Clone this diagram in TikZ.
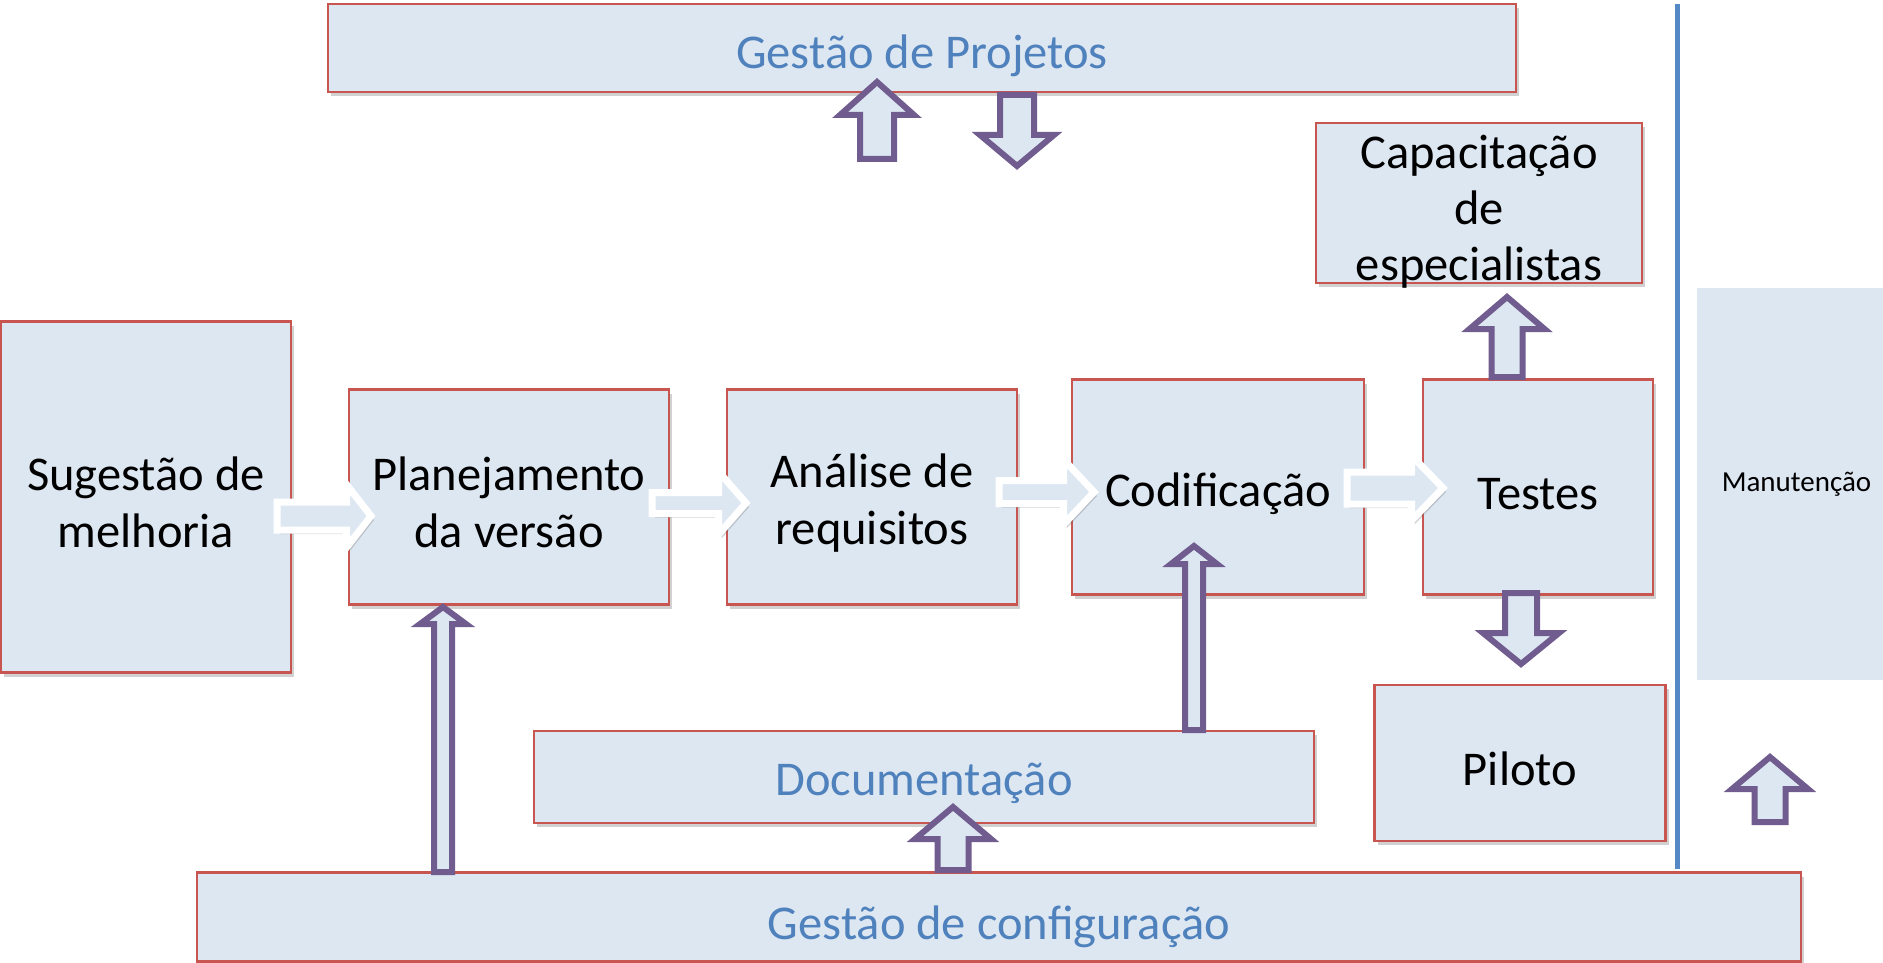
\documentclass[tikz,border=0pt]{standalone}
\usepackage{fontspec}
\setmainfont{Carlito}
\usetikzlibrary{shadows}
\definecolor{boxfill}{RGB}{221,231,242}
\definecolor{boxred}{RGB}{200,85,80}
\definecolor{arrpurple}{RGB}{112,92,142}
\definecolor{txtblue}{RGB}{79,129,189}
\definecolor{lineblue}{RGB}{84,137,198}
\tikzset{
  myshadow/.style={drop shadow={shadow xshift=3pt, shadow yshift=-4pt, opacity=0.3, fill=black!60}},
  box/.style={draw=boxred, fill=boxfill, line width=2.5pt, inner sep=0pt, outer sep=0pt, myshadow},
  lbl/.style={align=center, inner sep=0pt, font=\fontsize{48.5}{57}\selectfont},
  bluetxt/.style={text=txtblue},
  parrow/.style={draw=arrpurple, fill=boxfill, line width=6pt, miter limit=10},
  warrow/.style={draw=white, fill=boxfill, line width=7pt, miter limit=10, myshadow},
  manbox/.style={draw=white, fill=boxfill, line width=8pt, inner sep=0pt, outer sep=0pt,
    font=\fontsize{29}{35}\selectfont, myshadow},
  sepline/.style={draw=lineblue, line width=5pt},
}
% vertical block arrow: x, tip y, head base y, head half width, shaft half width, end y
\newcommand\VArrow[6]{\draw[parrow] (#1,#2) -- ({#1+#4},#3) -- ({#1+#5},#3) -- ({#1+#5},#6) -- ({#1-#5},#6) -- ({#1-#5},#3) -- ({#1-#4},#3) -- cycle;}
% horizontal block arrow: y, start x, head base x, tip x, head half width, shaft half width
\newcommand\HArrow[6]{\draw[warrow] (#4,#1) -- (#3,{#1-#5}) -- (#3,{#1-#6}) -- (#2,{#1-#6}) -- (#2,{#1+#6}) -- (#3,{#1+#6}) -- (#3,{#1+#5}) -- cycle;}
\begin{document}
\begin{tikzpicture}[x=1pt,y=-1pt]
\useasboundingbox (0,0) rectangle (1883,963);

% boxes
\node[box, minimum width=1188pt, minimum height=88pt] (gp) at (922,48) {};
\node[box, minimum width=326pt, minimum height=160pt] (cap) at (1479,203) {};
\node[box, minimum width=290pt, minimum height=351pt] (sug) at (146,497) {};
\node[box, minimum width=320pt, minimum height=215pt] (plan) at (509,497) {};
\node[box, minimum width=290pt, minimum height=215pt] (ana) at (872,497) {};
\node[box, minimum width=292pt, minimum height=215pt] (cod) at (1218,487) {};
\node[box, minimum width=230pt, minimum height=215pt] (tes) at (1538,487) {};
\node[box, minimum width=291pt, minimum height=156pt] (pil) at (1520,763) {};
\node[box, minimum width=780pt, minimum height=92pt] (doc) at (924,777) {};
\node[box, minimum width=1604pt, minimum height=89pt] (gc) at (999,917) {};
\node[manbox, minimum width=208pt, minimum height=400pt] (man) at (1796.5,484) {Manutenção};

% texts
\node[lbl, bluetxt] (gptxt) at ([yshift=-8pt]gp.center) {Gestão de Projetos};
\node[lbl, font=\fontsize{48.5}{56}\selectfont] (captxt) at ([yshift=-9pt]cap.center) {Capacitação\\de\\especialistas};
\node[lbl] (sugtxt) at ([yshift=-5pt]sug.center) {Sugestão de\\melhoria};
\node[lbl] (plantxt) at ([yshift=-5pt]plan.center) {Planejamento\\da versão};
\node[lbl] (anatxt) at ([yshift=-6pt]ana.center) {Análise de\\requisitos};
\node[lbl] (codtxt) at ([yshift=-7pt]cod.center) {Codificação};
\node[lbl] (testxt) at ([yshift=-7pt]tes.center) {Testes};
\node[lbl] (piltxt) at ([yshift=-6pt]pil.center) {Piloto};
\node[lbl, bluetxt] (doctxt) at ([yshift=-6pt]doc.center) {Documentação};
\node[lbl, bluetxt] (gctxt) at ([yshift=-10pt]gc.center) {Gestão de configuração};

% separator line
\coordinate (lt) at (1677,4);
\coordinate (lb) at (1677,869);
\draw[sepline] (lt) -- (lb);

% purple block arrows
\VArrow{877}{82}{115}{37}{17}{159}
\VArrow{1017}{166}{135}{37}{17}{95}
\VArrow{1507}{297}{329}{37.5}{15.5}{377}
\VArrow{1521}{664}{633}{38}{16}{593}
\VArrow{443}{607}{624}{23}{9}{872}
\VArrow{1194}{546}{564}{23}{9}{730}
\VArrow{953}{807}{839}{38}{15.5}{870}
\VArrow{1770}{757}{789}{38}{15.5}{822}

% white block arrows
\HArrow{516}{277}{346.5}{371}{31.5}{14}
\HArrow{503}{652}{718.5}{746}{31.5}{10.5}
\HArrow{492}{999}{1063.5}{1094}{32.5}{11.5}
\HArrow{488}{1347}{1411.5}{1443}{32.5}{16}
\end{tikzpicture}
\end{document}
